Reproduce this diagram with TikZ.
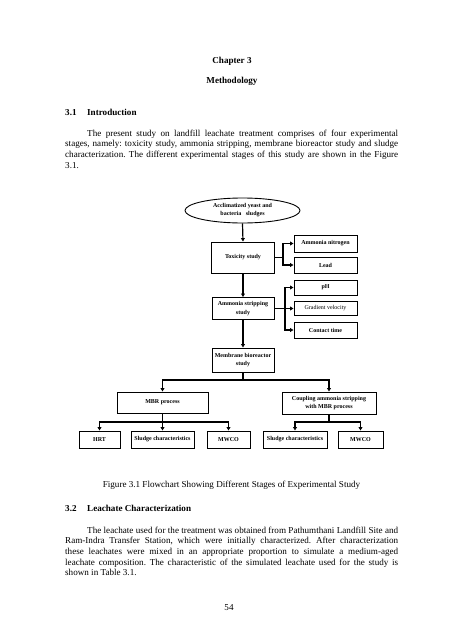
\documentclass[tikz,border=0pt]{standalone}
\usepackage{fontspec}
\setmainfont{Liberation Serif}
\usetikzlibrary{arrows.meta,shapes.geometric}
\frenchspacing
\begin{document}
\begin{tikzpicture}[x=1pt,y=-1pt,
  box/.style={draw, line width=0.9pt, rectangle, inner sep=0pt, align=center, font=\fontsize{6}{8.7}\selectfont\bfseries},
  oval/.style={draw, line width=0.9pt, ellipse, inner sep=0pt, align=center, minimum width=115pt, minimum height=25pt, font=\fontsize{6}{8}\selectfont\bfseries},
  conn/.style={line width=1.2pt},
  arr/.style={conn,-{Triangle[length=3.5pt,width=3.8pt]}},
  body/.style={anchor=base west, inner sep=0pt, font=\fontsize{9.1}{10.7}\selectfont},
  head/.style={anchor=base west, inner sep=0pt, font=\fontsize{9.1}{10.7}\selectfont\bfseries},
  centr/.style={anchor=base, inner sep=0pt, font=\fontsize{9.1}{10.7}\selectfont},
]
\fill[white] (0,0) rectangle (452,640);
\useasboundingbox (0,0) rectangle (452,640);

% page text
\node[centr, font=\fontsize{9.1}{10.7}\selectfont\bfseries] (ch) at (232,63) {Chapter 3};
\node[centr, font=\fontsize{9.1}{10.7}\selectfont\bfseries] (meth) at (232,83.5) {Methodology};
\node[head] (h31n) at (65,115) {3.1};
\node[head] (h31) at (87,115) {Introduction};
\node[body] (p1a) at (87,136) {\makebox[311pt][s]{The present study on landfill leachate treatment comprises of four experimental}};
\node[body] (p1b) at (65,146.7) {\makebox[333pt][s]{stages, namely: toxicity study, ammonia stripping, membrane bioreactor study and sludge}};
\node[body] (p1c) at (65,157.4) {\makebox[333pt][s]{characterization. The different experimental stages of this study are shown in the Figure}};
\node[body] (p1d) at (65,168.1) {3.1.};

\node[centr] (cap) at (231.5,487) {Figure 3.1 Flowchart Showing Different Stages of Experimental Study};
\node[head] (h32n) at (65,511.5) {3.2};
\node[head] (h32) at (87,511.5) {Leachate Characterization};
\node[body] (p2a) at (87,533) {\makebox[311pt][s]{The leachate used for the treatment was obtained from Pathumthani Landfill Site and}};
\node[body] (p2b) at (65,543.7) {\makebox[333pt][s]{Ram-Indra Transfer Station, which were initially characterized. After characterization}};
\node[body] (p2c) at (65,554.4) {\makebox[333pt][s]{these leachates were mixed in an appropriate proportion to simulate a medium-aged}};
\node[body] (p2d) at (65,565.1) {\makebox[333pt][s]{leachate composition. The characteristic of the simulated leachate used for the study is}};
\node[body] (p2e) at (65,575.8) {shown in Table 3.1.};
\node[centr] (pg) at (229,610) {54};

% diagram nodes
\node[oval] (acc) at (242.5,210.5) {Acclimatized yeast and\\bacteria\ \ \ sludges};
\node[box, minimum width=63pt, minimum height=31pt] (tox) at (243,257.5) {Toxicity study};
\node[box, minimum width=63pt, minimum height=17pt] (an) at (325.5,243.5) {Ammonia nitrogen};
\node[box, minimum width=63pt, minimum height=16pt] (lead) at (325.5,265) {Lead};
\node[box, minimum width=63pt, minimum height=15pt] (ph) at (325.5,287.5) {pH};
\node[box, minimum width=63pt, minimum height=14pt, font=\fontsize{6}{8.7}\selectfont] (gv) at (325.5,308.5) {Gradient velocity};
\node[box, minimum width=63pt, minimum height=16pt] (ct) at (325.5,330) {Contact time};
\node[box, minimum width=62pt, minimum height=22pt] (as) at (243,308.5) {Ammonia stripping\\study};
\node[box, minimum width=62pt, minimum height=24pt] (mb) at (243,360) {Membrane bioreactor\\study};
\node[box, minimum width=91pt, minimum height=21pt] (mbrp) at (162.5,402.5) {MBR process};
\node[box, minimum width=94pt, minimum height=22pt] (cp) at (329,403) {Coupling ammonia stripping\\with MBR process};
\node[box, minimum width=41pt, minimum height=17pt] (hrt) at (99.5,439.5) {HRT};
\node[box, minimum width=63pt, minimum height=17pt] (sc1) at (162.5,439.5) {Sludge characteristics};
\node[box, minimum width=43pt, minimum height=17pt] (mw1) at (228.5,439.5) {MWCO};
\node[box, minimum width=64pt, minimum height=17pt] (sc2) at (295,439.5) {Sludge characteristics};
\node[box, minimum width=45pt, minimum height=17pt] (mw2) at (360.5,439.5) {MWCO};

% connectors
\draw[arr] (acc.south) -- (tox.north);
\coordinate (j1) at (283,257.5);
\draw[conn] (tox.east) -- (j1);
\draw[arr] (j1) |- (an.west);
\draw[arr] (j1) |- (lead.west);
\draw[arr] (tox.south) -- (as.north);
\coordinate (j2) at (285,308.5);
\draw[conn] (as.east) -- (j2);
\draw[arr] (j2) |- (ph.west);
\draw[arr] (j2) -- (gv.west);
\draw[arr] (j2) |- (ct.west);
\draw[arr] (as.south) -- (mb.north);
\coordinate (j3) at (243,380);
\draw[conn] (mb.south) -- (j3);
\draw[arr] (j3) -| (mbrp.north);
\draw[arr] (j3) -| (cp.north);
\coordinate (j4) at (162.5,422);
\draw[conn] (mbrp.south) -- (j4);
\draw[arr] (j4) -| (hrt.north);
\draw[arr] (j4) -- (sc1.north);
\draw[arr] (j4) -| (mw1.north);
\coordinate (j5) at (329,422);
\draw[conn] (cp.south) -- (j5);
\draw[arr] (j5) -| (sc2.north);
\draw[arr] (j5) -| (mw2.north);
\end{tikzpicture}
\end{document}
